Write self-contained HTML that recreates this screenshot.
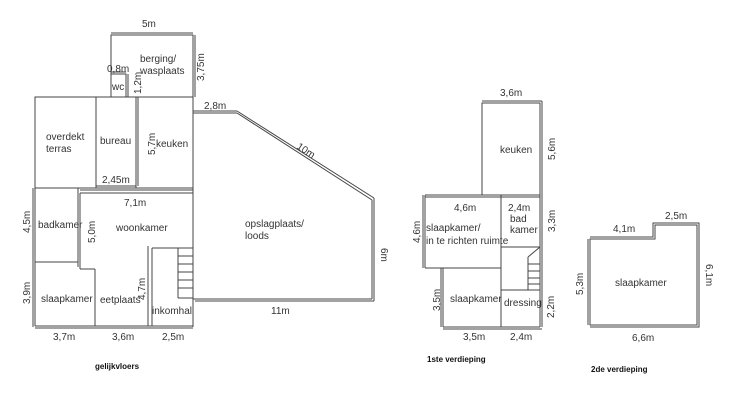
<!DOCTYPE html>
<html><head><meta charset="utf-8"><style>
html,body{margin:0;padding:0;background:#fff;}
svg{display:block;}
text{font-family:"Liberation Sans",sans-serif;font-size:10px;fill:#333;}
.b{font-weight:bold;font-size:8px;fill:#111;}
</style></head><body>
<svg width="736" height="415" viewBox="0 0 736 415" xmlns="http://www.w3.org/2000/svg">
<g fill="none" stroke="#444" stroke-width="1">
<!-- ground floor -->
<rect x="111" y="35" width="82" height="62"/>
<line x1="111" y1="33" x2="193" y2="33"/>
<line x1="195" y1="35" x2="195" y2="97"/>
<rect x="111" y="74" width="15" height="23"/>
<line x1="111" y1="72" x2="126" y2="72"/>
<line x1="128" y1="74" x2="128" y2="97"/>
<rect x="35" y="97" width="158" height="91"/>
<line x1="96" y1="97" x2="96" y2="188"/>
<line x1="136" y1="97" x2="136" y2="188"/>
<line x1="138" y1="97" x2="138" y2="186"/>
<line x1="96" y1="186" x2="136" y2="186"/>
<line x1="193" y1="111" x2="237" y2="111"/>
<line x1="193" y1="113" x2="237" y2="113"/>
<line x1="237" y1="111" x2="374" y2="198"/>
<line x1="237" y1="113" x2="372" y2="200"/>
<line x1="372" y1="200" x2="372" y2="299"/>
<line x1="374" y1="198" x2="374" y2="301"/>
<line x1="193" y1="113" x2="193" y2="327"/>
<line x1="193" y1="299" x2="372" y2="299"/>
<line x1="195" y1="301" x2="374" y2="301"/>
<line x1="80" y1="190" x2="193" y2="190"/>
<line x1="80" y1="193" x2="193" y2="193"/>
<rect x="35" y="188" width="43" height="74"/>
<line x1="33" y1="188" x2="33" y2="327"/>
<line x1="78" y1="188" x2="78" y2="267"/>
<line x1="80" y1="193" x2="80" y2="269"/>
<line x1="80" y1="269" x2="95" y2="269"/>
<line x1="35" y1="262" x2="78" y2="262"/>
<line x1="35" y1="262" x2="35" y2="326"/>
<line x1="95" y1="269" x2="95" y2="326"/>
<line x1="35" y1="326" x2="193" y2="326"/>
<line x1="35" y1="328" x2="193" y2="328"/>
<line x1="148" y1="246" x2="148" y2="326"/>
<line x1="152" y1="248" x2="152" y2="326"/>
<line x1="152" y1="248" x2="193" y2="248"/>
<line x1="178" y1="248" x2="178" y2="298"/>
<line x1="178" y1="298" x2="193" y2="298"/>
<line x1="178" y1="256" x2="193" y2="256"/><line x1="178" y1="264" x2="193" y2="264"/><line x1="178" y1="272" x2="193" y2="272"/><line x1="178" y1="280" x2="193" y2="280"/><line x1="178" y1="288" x2="193" y2="288"/>
<!-- 1st floor -->
<rect x="482" y="103" width="58" height="92"/>
<line x1="482" y1="101" x2="542" y2="101"/>
<line x1="542" y1="101" x2="542" y2="327"/>
<line x1="425" y1="195" x2="540" y2="195"/>
<line x1="425" y1="197" x2="540" y2="197"/>
<line x1="423" y1="195" x2="423" y2="268"/>
<line x1="425" y1="195" x2="425" y2="268"/>
<line x1="425" y1="268" x2="501" y2="268"/>
<line x1="540" y1="195" x2="540" y2="327"/>
<line x1="501" y1="195" x2="501" y2="327"/>
<line x1="501" y1="247" x2="540" y2="247"/>
<line x1="441" y1="268" x2="441" y2="327"/>
<line x1="443" y1="268" x2="443" y2="327"/>
<line x1="443" y1="327" x2="540" y2="327"/>
<line x1="443" y1="329" x2="542" y2="329"/>
<line x1="501" y1="290" x2="540" y2="290"/>
<line x1="528" y1="257" x2="528" y2="290"/>
<line x1="528" y1="257" x2="540" y2="247"/>
<line x1="528" y1="264" x2="540" y2="264"/><line x1="528" y1="271" x2="540" y2="271"/><line x1="528" y1="278" x2="540" y2="278"/><line x1="528" y1="284" x2="540" y2="284"/>
<!-- 2nd floor -->
<polygon points="590,239 655,239 655,225 697,225 697,325 590,325"/>
<polyline points="590,237 653,237 653,223 699,223 699,327 590,327"/>
<line x1="588" y1="239" x2="588" y2="325"/>
</g>
<text x="142" y="27">5m</text>
<text x="140" y="62">berging/</text>
<text x="140" y="74">wasplaats</text>
<text x="107" y="72" font-size="9">0,8m</text>
<text x="112" y="90" font-size="9">wc</text>
<text transform="translate(204,81) rotate(-90)" font-size="9">3,75m</text>
<text transform="translate(141,94) rotate(-90)" font-size="9">1,2m</text>
<text x="204" y="109">2,8m</text>
<text x="46" y="140">overdekt</text>
<text x="46" y="152">terras</text>
<text x="100" y="144">bureau</text>
<text transform="translate(155,155) rotate(-90)">5,7m</text>
<text x="156" y="147">keuken</text>
<text x="102" y="183">2,45m</text>
<text x="124" y="206">7,1m</text>
<text transform="translate(296,148) rotate(33)">10m</text>
<text x="245" y="227">opslagplaats/</text>
<text x="245" y="239">loods</text>
<text transform="translate(381,248) rotate(90)">6m</text>
<text x="271" y="314">11m</text>
<text transform="translate(30,233) rotate(-90)">4,5m</text>
<text x="38" y="228">badkamer</text>
<text transform="translate(95,243) rotate(-90)">5,0m</text>
<text x="116" y="231">woonkamer</text>
<text transform="translate(30,304) rotate(-90)">3,9m</text>
<text x="41" y="302">slaapkamer</text>
<text x="100" y="303">eetplaats</text>
<text transform="translate(145,300) rotate(-90)">4,7m</text>
<text x="152" y="314">inkomhal</text>
<text x="53" y="340">3,7m</text>
<text x="112" y="340">3,6m</text>
<text x="162" y="340">2,5m</text>
<text class="b" x="95" y="369">gelijkvloers</text>
<text x="500" y="96">3,6m</text>
<text x="500" y="153">keuken</text>
<text transform="translate(555,160) rotate(-90)">5,6m</text>
<text x="454" y="211">4,6m</text>
<text x="508" y="211">2,4m</text>
<text x="510" y="222">bad</text>
<text x="510" y="233">kamer</text>
<text transform="translate(555,232) rotate(-90)">3,3m</text>
<text transform="translate(420,243) rotate(-90)">4,6m</text>
<text x="426" y="231">slaapkamer/</text>
<text x="426" y="244">in te richten ruimte</text>
<text x="450" y="302">slaapkamer</text>
<text x="504" y="306">dressing</text>
<text transform="translate(440,311) rotate(-90)">3,5m</text>
<text transform="translate(554,318) rotate(-90)">2,2m</text>
<text x="463" y="340">3,5m</text>
<text x="510" y="340">2,4m</text>
<text class="b" x="427" y="362">1ste verdieping</text>
<text x="613" y="232">4,1m</text>
<text x="665" y="219">2,5m</text>
<text transform="translate(583,295) rotate(-90)">5,3m</text>
<text x="615" y="286">slaapkamer</text>
<text transform="translate(706,264) rotate(90)">6,1m</text>
<text x="632" y="341">6,6m</text>
<text class="b" x="591" y="372">2de verdieping</text>
</svg>
</body></html>
